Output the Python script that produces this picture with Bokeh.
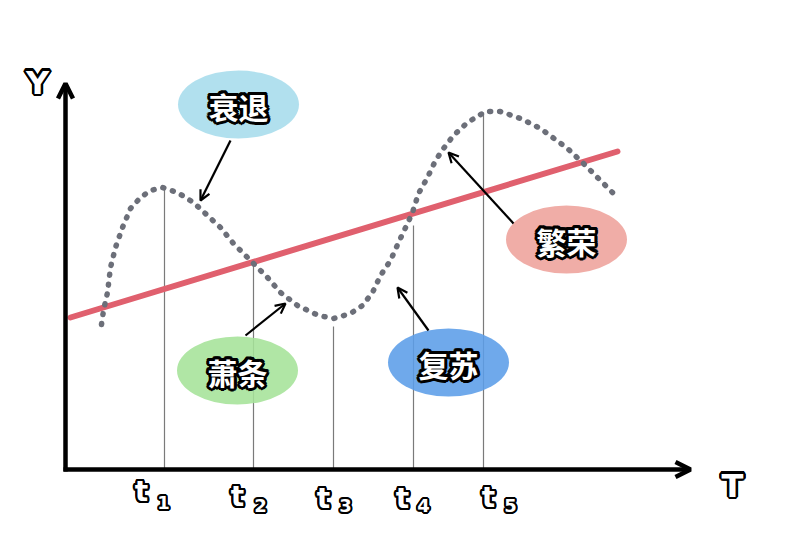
import numpy as np
from bokeh.plotting import figure
from bokeh.models import Range1d, Arrow, OpenHead
from bokeh.core.properties import value
from bokeh.embed import file_html
from bokeh.resources import INLINE

# ---------------- data (diagram units: x to the right, y upward) ----------------
curve_x = [101, 103, 107, 110, 115, 122, 130, 140, 150, 162, 177, 193, 207, 220, 233,
           253, 267, 280, 297, 318, 333, 350, 362, 372, 380, 390, 398, 407, 412, 418,
           427, 435, 443, 453, 467, 485, 500, 520, 540, 567, 583, 597, 612]
curve_y = [210, 224, 242, 267, 287, 307, 326, 337, 344, 347, 342, 332, 319, 307, 291,
           271, 257, 242, 229, 219, 216, 221, 229, 242, 259, 274, 292, 311, 322, 341,
           357, 374, 386, 399, 412, 423, 423, 416, 406, 386, 371, 357, 342]

trend_x = [70, 617]
trend_y = [217, 383]

t_x = [164, 253, 333, 413, 483]
t_top = [347, 271, 208, 309, 422]
t_sub = ["1", "2", "3", "4", "5"]

phase_names = ["衰退", "萧条", "复苏", "繁荣"]
phase_x = [238, 237, 448, 566]
phase_y = [430, 164, 172, 295]
phase_colors = ["#a6dcec", "#a5e398", "#5b9de8", "#eea29b"]
# arrows from label to curve
arrow_from = [(230, 394), (245, 199), (428, 204), (513, 311)]
arrow_to = [(200, 334), (285, 231), (397, 247), (448, 382)]

base_y = 65
axis_x0 = 65

# ---------------- figure ----------------
p = figure(width=784, height=518, x_range=Range1d(0, 784), y_range=Range1d(16, 534),
           output_backend="svg", toolbar_location=None,
           x_axis_location=None, y_axis_location=None, min_border=0)
p.grid.visible = False
p.outline_line_color = None
p.background_fill_color = "white"
p.border_fill_color = "white"

# vertical guide lines
p.segment(x0=t_x, y0=[base_y] * len(t_x), x1=t_x, y1=t_top,
          line_color="#7a7a7a", line_width=1.2)

# trend line
p.line(trend_x, trend_y, line_color="#e0606e", line_width=6, line_cap="round")

# dotted cycle curve
p.line(curve_x, curve_y, line_color="#6c6f79", line_width=5.5,
       line_dash="1 9", line_cap="round", line_join="round")

# ellipses
p.ellipse(x=phase_x, y=phase_y, width=121, height=68,
          fill_color=phase_colors, fill_alpha=0.88, line_color=None)

# label arrows
for (xs, ys), (xe, ye) in zip(arrow_from, arrow_to):
    p.add_layout(Arrow(end=OpenHead(size=10, line_width=2.2, line_color="black"),
                       x_start=xs, y_start=ys, x_end=xe, y_end=ye,
                       line_width=2.2, line_color="black"))

# axes
p.add_layout(Arrow(end=OpenHead(size=15, line_width=4.5, line_color="black"),
                   x_start=axis_x0, y_start=base_y - 2, x_end=axis_x0, y_end=451,
                   line_width=4.5, line_color="black"))
p.add_layout(Arrow(end=OpenHead(size=15, line_width=4.5, line_color="black"),
                   x_start=axis_x0 - 2, y_start=base_y, x_end=690, y_end=base_y,
                   line_width=4.5, line_color="black"))


def outlined(xs, ys, texts, size, font, r=2.6):
    common = dict(text_font_size=f"{size}px", text_font_style="bold",
                  text_font=value(font), text_align="center", text_baseline="middle")
    for ang in np.linspace(0, 2 * np.pi, 16, endpoint=False):
        p.text(x=xs, y=ys, text=texts, x_offset=float(r * np.cos(ang)),
               y_offset=float(r * np.sin(ang)), text_color="black", **common)
    p.text(x=xs, y=ys, text=texts, text_color="white", **common)


# phase labels
outlined(phase_x, [y - 1 for y in phase_y], phase_names, 30, "Noto Sans CJK SC", r=3)

# axis labels
outlined([37], [452], ["Y"], 32, "DejaVu Sans", r=2.4)
outlined([732], [49], ["T"], 32, "DejaVu Sans", r=2.4)

# t labels
t_dx = [-23, -16, -10, -11, 5]
t_dy = [43, 38, 36, 36, 37]
s_dx = [-1, 7, 12, 10, 27]
s_dy = [32, 29, 29, 29, 29]
outlined([x + d for x, d in zip(t_x, t_dx)], t_dy, ["t"] * 5, 28, "DejaVu Sans", r=2.2)
outlined([x + d for x, d in zip(t_x, s_dx)], s_dy, t_sub, 18, "DejaVu Sans", r=2.0)

open("out.html", "w").write(file_html(p, INLINE))
